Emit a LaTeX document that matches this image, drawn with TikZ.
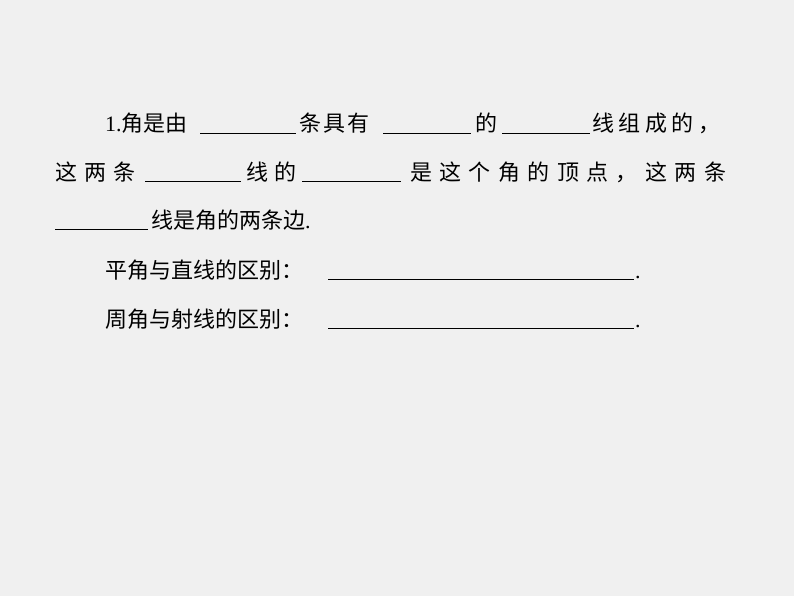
\documentclass[tikz,border=0pt]{standalone}
\usepackage{fontspec}
\setmainfont{Liberation Serif}
\newfontfamily\cjk{Noto Sans CJK SC}
\definecolor{bg}{RGB}{240,240,240}
\newcommand{\hf}{\hfill{}}
\begin{document}
\begin{tikzpicture}[x=1pt,y=-1pt,
  t/.style={anchor=base west,inner sep=0pt,font=\fontsize{22}{26}\selectfont\cjk},
  ul/.style={line width=0.8pt}]
\fill[bg] (0,0) rectangle (794,596);
\useasboundingbox (0,0) rectangle (794,596);
% line 1
\node[t] (a1) at (105,132) {{\rmfamily 1.}角是由};
\coordinate (u1a) at (200,133); \coordinate (u1b) at (296,133);
\draw[ul] (u1a) -- (u1b);
\node[t] (a2) at (299,132) {\makebox[70pt][s]{条\hf{}具\hf{}有}};
\coordinate (u2a) at (383,133); \coordinate (u2b) at (471,133);
\draw[ul] (u2a) -- (u2b);
\node[t] (a3) at (475,132) {的};
\coordinate (u3a) at (502,133); \coordinate (u3b) at (590,133);
\draw[ul] (u3a) -- (u3b);
\node[t] (a4) at (592,132) {\makebox[128pt][s]{线\hf{}组\hf{}成\hf{}的\hf{}，}};
% line 2
\node[t] (b1) at (55,180) {\makebox[80pt][s]{这\hf{}两\hf{}条}};
\coordinate (v1a) at (145,181); \coordinate (v1b) at (241,181);
\draw[ul] (v1a) -- (v1b);
\node[t] (b2) at (246,180) {\makebox[50pt][s]{线\hf{}的}};
\coordinate (v2a) at (302,181); \coordinate (v2b) at (401,181);
\draw[ul] (v2a) -- (v2b);
\node[t] (b3) at (410,180) {\makebox[316pt][s]{是\hf{}这\hf{}个\hf{}角\hf{}的\hf{}顶\hf{}点\hf{}，\hf{}这\hf{}两\hf{}条}};
% line 3
\coordinate (w1a) at (55,229); \coordinate (w1b) at (148,229);
\draw[ul] (w1a) -- (w1b);
\node[t] (c1) at (151,228) {线是角的两条边{\rmfamily .}};
% line 4
\node[t] (d1) at (105,278) {平角与直线的区别：};
\coordinate (x1a) at (328,279); \coordinate (x1b) at (634,279);
\draw[ul] (x1a) -- (x1b);
\node[t] (d2) at (635,278) {\rmfamily .};
% line 5
\node[t] (e1) at (105,327) {周角与射线的区别：};
\coordinate (y1a) at (328,328); \coordinate (y1b) at (634,328);
\draw[ul] (y1a) -- (y1b);
\node[t] (e2) at (635,327) {\rmfamily .};
\end{tikzpicture}
\end{document}
